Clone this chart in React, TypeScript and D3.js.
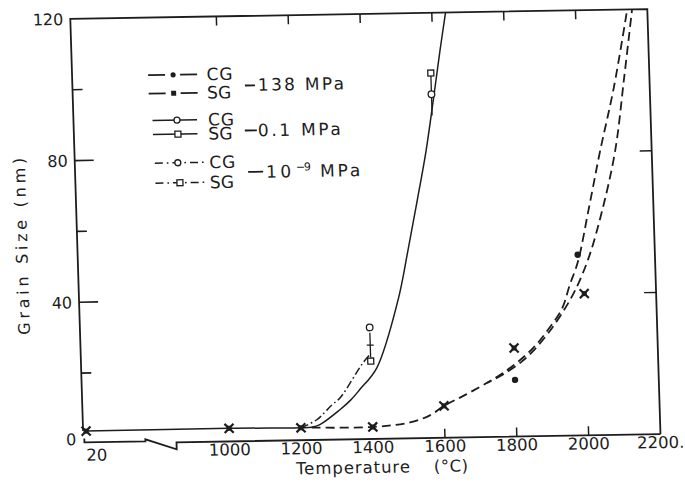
import React from 'react';
import * as d3 from 'd3';

const W = 685;
const H = 484;

// ---- axis ticks ----
const xTickTemps = [20, 1000, 1200, 1400, 1600, 1800, 2000, 2200];
const xTickLabels = ['20', '1000', '1200', '1400', '1600', '1800', '2000', '2200.'];
const topTickTemps = [1000, 1200, 1400, 1600, 1800, 2000];
const bottomTickTemps = [1600, 1800, 2000];
const yMajorTicks = [40, 80];
const yMinorTicks = [20, 60, 100];
const yTickLabels = [0, 40, 80, 120];

// ---- fitted curves (temperature °C, grain size nm) ----
// 0.1 MPa (solid)
const curve01Temps = [20, 1000, 1200, 1230, 1253, 1310, 1340, 1367, 1416, 1481, 1513, 1543, 1572, 1596, 1619, 1640];
const curve01Sizes = [3.6, 3.7, 3.5, 3.6, 4.3, 8.4, 11, 14, 20, 39, 53, 67, 81, 95, 109, 121];
// 10^-9 MPa (dash-dot)
const curve9Temps = [1200, 1245, 1288, 1311, 1378, 1400];
const curve9Sizes = [3.5, 5.7, 9.8, 11.7, 21.5, 24];
// 138 MPa CG (dashed)
const curveCG138Temps = [1230, 1400, 1504, 1560, 1600, 1660, 1722, 1767, 1821, 1858, 1896, 1936, 1961, 1985, 2020, 2056, 2100, 2146];
const curveCG138Sizes = [3.5, 3.4, 4.5, 6.4, 9, 12, 15.3, 18, 22, 25.4, 30, 35.7, 42.7, 49, 64, 80, 98, 121];
// 138 MPa SG (dashed)
const curveSG138Temps = [1722, 1767, 1821, 1858, 1896, 1936, 1975, 2015, 2056, 2098, 2130, 2159];
const curveSG138Sizes = [15.3, 17.6, 21.2, 24.6, 29, 34.5, 41, 50, 63, 80, 101, 121];

// ---- measured points ----
const sg138Temps = [20, 1000, 1200, 1400, 1600, 1800, 2000];
const sg138Sizes = [3.6, 3.7, 3.5, 3.4, 9, 25, 40];
const cg138Temps = [1800, 1985];
const cg138Sizes = [16, 51];
const cg01Temps = [1400, 1592];
const cg01Sizes = [31.5, 97];
const sg01Temps = [1400, 1592];
const sg01Sizes = [22, 103];
const barTemps = [1400, 1592];
const barLow = [23, 91];
const barHigh = [30, 103];

// ---- legend ----
const legendGrainLabels = ['CG', 'SG', 'CG', 'SG', 'CG', 'SG'];
const legendPressureLabels = ['138 MPa', '0.1 MPa', '10', '−9', 'MPa'];
const xTitleParts = ['Temperature', '(°C)'];
const yTitle = 'Grain Size (nm)';

const zip = (a: number[], b: number[]) => a.map((t, i) => [t, b[i]] as [number, number]);

export default function App() {
  const L = 77, R = 654, T = 14, B = 439;
  const x = d3.scaleLinear().domain([20, 1000, 2200]).range([80, 223, 654]);
  const y = d3.scaleLinear().domain([0, 120]).range([439, 14]);
  const ink = '#1d1d1d';
  const ff = "'DejaVu Sans', sans-serif";

  const line = d3
    .line<[number, number]>()
    .x((d) => x(d[0]))
    .y((d) => y(d[1]))
    .curve(d3.curveCatmullRom.alpha(0.5));

  const bottomAxis = d3.path();
  bottomAxis.moveTo(L + 1, B - 5.5);
  bottomAxis.lineTo(L + 1, B - 1.5);
  bottomAxis.lineTo(139, B - 1.5);
  bottomAxis.lineTo(139, B - 3.5);
  bottomAxis.lineTo(170, B + 7);
  bottomAxis.lineTo(170, B);
  bottomAxis.lineTo(R, B);

  const frame = d3.path();
  frame.moveTo(L, 426);
  frame.lineTo(L, T);
  frame.lineTo(R, T);
  frame.lineTo(R, B);

  const xMark = (cx: number, cy: number, k: string) => (
    <g key={k}>
      <path d={`M${cx - 4.5},${cy - 4.5}L${cx + 4.5},${cy + 4.5}M${cx - 4.5},${cy + 4.5}L${cx + 4.5},${cy - 4.5}`} stroke={ink} strokeWidth={2.2} />
      <rect x={cx - 2.5} y={cy - 2.5} width={5} height={5} fill={ink} />
    </g>
  );

  const rowsV = [71.6, 90, 117, 131, 159.6, 179.6];

  return (
    <svg width={W} height={H} style={{ position: 'absolute', left: 0, top: 0, background: '#fff' }}>
      <rect x={0} y={0} width={W} height={H} fill="#fff" />
      <defs>
        <clipPath id="plotClip">
          <rect x={L} y={T} width={R - L} height={B - T + 10} />
        </clipPath>
      </defs>
      <g transform="matrix(1,-0.017,0.031,1,-7.13,6.22)">
        {/* frame */}
        <path d={frame.toString()} fill="none" stroke={ink} strokeWidth={1.8} />
        <path d={bottomAxis.toString()} fill="none" stroke={ink} strokeWidth={1.8} />
        {/* y ticks */}
        {yMajorTicks.map((t) => (
          <g key={'ym' + t}>
            <line x1={L} x2={L + 19} y1={y(t)} y2={y(t)} stroke={ink} strokeWidth={1.6} />
            <line x1={R} x2={R - 12} y1={y(t)} y2={y(t)} stroke={ink} strokeWidth={1.4} />
          </g>
        ))}
        {yMinorTicks.map((t) => (
          <g key={'yn' + t}>
            <line x1={L} x2={L + 10} y1={y(t)} y2={y(t)} stroke={ink} strokeWidth={1.6} />
          </g>
        ))}
        {topTickTemps.map((t) => (
          <line key={'tt' + t} x1={x(t)} x2={x(t)} y1={T} y2={T + 9} stroke={ink} strokeWidth={1.5} />
        ))}
        {bottomTickTemps.map((t) => (
          <line key={'bt' + t} x1={x(t)} x2={x(t)} y1={B} y2={B - 9} stroke={ink} strokeWidth={1.5} />
        ))}
        {/* tick labels */}
        {xTickTemps.map((t, i) => (
          <text key={'xl' + t} x={x(t) + (t === 20 ? 10 : 0)} y={t === 20 ? 456 : 453} textAnchor="middle" fontFamily={ff} fontSize={16.5} fill={ink}>
            {xTickLabels[i]}
          </text>
        ))}
        {yTickLabels.map((t) => (
          <text key={'yl' + t} x={70} y={t === 0 ? y(t) + 1 : y(t) + 6} textAnchor="end" fontFamily={ff} fontSize={16} fill={ink}>
            {t}
          </text>
        ))}
        {/* axis titles */}
        <text x={288.6} y={473} fontFamily={ff} fontSize={16.5} fill={ink} textLength={114} lengthAdjust="spacing">
          {xTitleParts[0]}
        </text>
        <text x={426.6} y={473} fontFamily={ff} fontSize={16.5} fill={ink} textLength={34} lengthAdjust="spacing">
          {xTitleParts[1]}
        </text>
        <text transform="translate(27,240.5) rotate(-90)" textAnchor="middle" fontFamily={ff} fontSize={16} fill={ink} textLength={177} lengthAdjust="spacing">
          {yTitle}
        </text>

        {/* curves */}
        <g clipPath="url(#plotClip)" fill="none" stroke={ink}>
          <path d={line(zip(curve01Temps, curve01Sizes)) || ''} strokeWidth={1.5} />
          <path d={line(zip(curve9Temps, curve9Sizes)) || ''} strokeWidth={1.5} strokeDasharray="8,3,1.6,3" />
          <path d={line(zip(curveCG138Temps, curveCG138Sizes)) || ''} strokeWidth={1.8} strokeDasharray="9,5" />
          <path d={line(zip(curveSG138Temps, curveSG138Sizes)) || ''} strokeWidth={1.8} strokeDasharray="9,5" strokeDashoffset={4} />
        </g>

        {/* error bars */}
        {barTemps.map((t, i) => (
          <g key={'bar' + i}>
            <line x1={x(t)} x2={x(t)} y1={y(barLow[i])} y2={y(barHigh[i])} stroke={ink} strokeWidth={1.3} />
            <line x1={x(t) - 3.5} x2={x(t) + 3.5} y1={y((barLow[i] + barHigh[i]) / 2)} y2={y((barLow[i] + barHigh[i]) / 2)} stroke={ink} strokeWidth={1.2} />
          </g>
        ))}

        {/* markers */}
        {sg138Temps.map((t, i) => xMark(x(t), y(sg138Sizes[i]), 'sg' + i))}
        {cg138Temps.map((t, i) => (
          <circle key={'cg' + i} cx={x(t)} cy={y(cg138Sizes[i])} r={3.2} fill={ink} />
        ))}
        {sg01Temps.map((t, i) => (
          <rect key={'s01' + i} x={x(t) - 3} y={y(sg01Sizes[i]) - 3} width={6} height={6} fill="#fff" stroke={ink} strokeWidth={1.3} />
        ))}
        {cg01Temps.map((t, i) => (
          <circle key={'c01' + i} cx={x(t)} cy={y(cg01Sizes[i])} r={3.3} fill="#fff" stroke={ink} strokeWidth={1.3} />
        ))}

        {/* legend */}
        <g stroke={ink} fill="none">
          {[0, 1].map((r) => (
            <g key={'lg' + r}>
              <line x1={153} x2={170} y1={rowsV[r]} y2={rowsV[r]} strokeWidth={1.8} />
              <line x1={185} x2={202} y1={rowsV[r]} y2={rowsV[r]} strokeWidth={1.8} />
            </g>
          ))}
          <circle cx={178} cy={rowsV[0]} r={2.6} fill={ink} stroke="none" />
          <rect x={175.5} y={rowsV[1] - 2.5} width={5} height={5} fill={ink} stroke="none" />
          {[2, 3].map((r) => (
            <line key={'lg' + r} x1={156} x2={200.5} y1={rowsV[r]} y2={rowsV[r]} strokeWidth={1.5} />
          ))}
          <circle cx={180.5} cy={rowsV[2]} r={3} fill="#fff" strokeWidth={1.3} />
          <rect x={178} y={rowsV[3] - 3} width={6} height={6} fill="#fff" strokeWidth={1.3} />
          {[4, 5].map((r) => (
            <line key={'lg' + r} x1={157} x2={207} y1={rowsV[r]} y2={rowsV[r]} strokeWidth={1.5} strokeDasharray="8,4,1.6,4" />
          ))}
          <circle cx={180} cy={rowsV[4]} r={3} fill="#fff" strokeWidth={1.3} />
          <rect x={178.5} y={rowsV[5] - 3} width={6} height={6} fill="#fff" strokeWidth={1.3} />
          <line x1={249.5} x2={259.5} y1={83.5} y2={83.5} strokeWidth={1.8} />
          <line x1={248} x2={260} y1={128.5} y2={128.5} strokeWidth={1.8} />
          <line x1={250} x2={265} y1={170} y2={170} strokeWidth={1.8} />
        </g>
        {legendGrainLabels.map((s, i) => (
          <text key={'gl' + i} x={211.5} y={rowsV[i] + 6} fontFamily={ff} fontSize={17} fill={ink} textLength={s === 'CG' ? 26 : 24} lengthAdjust="spacing">
            {s}
          </text>
        ))}
        <text x={262.5} y={89} fontFamily={ff} fontSize={17} fill={ink} textLength={86} lengthAdjust="spacing">
          {legendPressureLabels[0]}
        </text>
        <text x={261} y={134.5} fontFamily={ff} fontSize={17} fill={ink} textLength={83} lengthAdjust="spacing">
          {legendPressureLabels[1]}
        </text>
        <text x={268} y={176} fontFamily={ff} fontSize={17} fill={ink} textLength={25} lengthAdjust="spacing">
          {legendPressureLabels[2]}
        </text>
        <text x={298} y={169.5} fontFamily={ff} fontSize={11} fill={ink} textLength={15} lengthAdjust="spacing">
          {legendPressureLabels[3]}
        </text>
        <text x={322} y={176} fontFamily={ff} fontSize={17} fill={ink} textLength={40} lengthAdjust="spacing">
          {legendPressureLabels[4]}
        </text>
      </g>
    </svg>
  );
}
